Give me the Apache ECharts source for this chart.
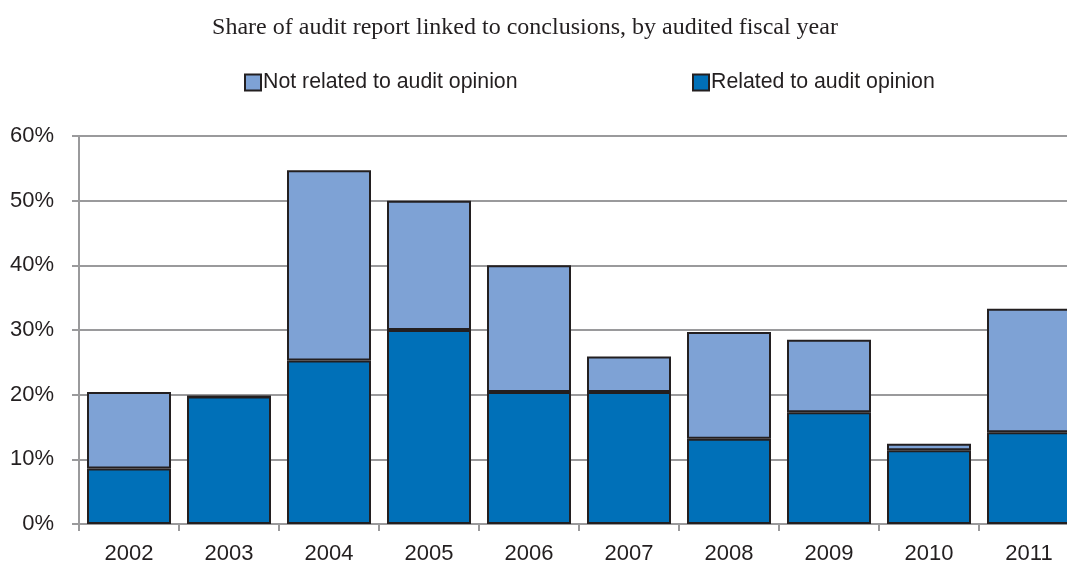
<!DOCTYPE html>
<html>
<head>
<meta charset="utf-8">
<script src="https://cdn.jsdelivr.net/npm/echarts@6/dist/echarts.min.js"></script>
<style>html,body{margin:0;padding:0;background:#fff}#c{width:1067px;height:566px}</style>
</head>
<body>
<div id="c"></div>
<script>
const years = ['2002','2003','2004','2005','2006','2007','2008','2009','2010','2011'];
const related = [8.6, 19.7, 25.3, 30.0, 20.4, 20.4, 13.2, 17.3, 11.4, 14.2];
const notRelated = [11.8, 0, 29.4, 20.0, 19.6, 5.5, 16.5, 11.2, 1.0, 19.1];
const yTicks = [0, 10, 20, 30, 40, 50, 60];

const FONT = "'Liberation Sans Narrow', 'Liberation Sans', Arial, sans-serif";
const chart = echarts.init(document.getElementById('c'), null, {renderer: 'canvas'});
chart.setOption({
  animation: false,
  title: {
    text: 'Share of audit report linked to conclusions, by audited fiscal year',
    left: 520, top: 11, textAlign: 'center',
    textStyle: {fontFamily: "'Liberation Serif', 'Times New Roman', serif", fontWeight: 'normal', fontSize: 24, color: '#231F20'}
  },
  legend: [
    {data: ['Not related to audit opinion'], left: 239, top: 67, itemWidth: 16, itemHeight: 16, itemGap: 4, icon: 'rect',
     textStyle: {fontFamily: FONT, fontSize: 21.3, color: '#231F20', padding: [0,0,0,-3]}},
    {data: ['Related to audit opinion'], left: 687, top: 67, itemWidth: 16, itemHeight: 16, icon: 'rect',
     textStyle: {fontFamily: FONT, fontSize: 21.3, color: '#231F20', padding: [0,0,0,-3]}}
  ],
  grid: {left: 79, top: 136, width: 1000, height: 388, containLabel: false, outerBoundsMode: 'none'},
  xAxis: {
    type: 'category', data: years,
    axisLine: {lineStyle: {color: '#9a9a9c', width: 2}},
    axisTick: {show: true, length: 7, alignWithLabel: false, lineStyle: {color: '#9a9a9c', width: 2}},
    axisLabel: {fontFamily: FONT, fontSize: 22, color: '#231F20', margin: 19}
  },
  yAxis: {
    type: 'value', min: 0, max: 60, interval: 10,
    axisLine: {show: true, lineStyle: {color: '#9a9a9c', width: 2}},
    axisTick: {show: true, length: 7, lineStyle: {color: '#9a9a9c', width: 2}},
    splitLine: {lineStyle: {color: '#9a9a9c', width: 2}},
    axisLabel: {fontFamily: FONT, fontSize: 22, color: '#231F20', margin: 25,
      formatter: v => yTicks.includes(v) ? v + '%' : ''}
  },
  series: [
    {name: 'Related to audit opinion', type: 'bar', stack: 's', data: related, barCategoryGap: '16%',
     itemStyle: {color: '#0070B8', borderColor: '#231F20', borderWidth: 2}},
    {name: 'Not related to audit opinion', type: 'bar', stack: 's', data: notRelated, barCategoryGap: '16%',
     itemStyle: {color: '#7EA2D5', borderColor: '#231F20', borderWidth: 2}}
  ]
});
</script>
</body>
</html>
